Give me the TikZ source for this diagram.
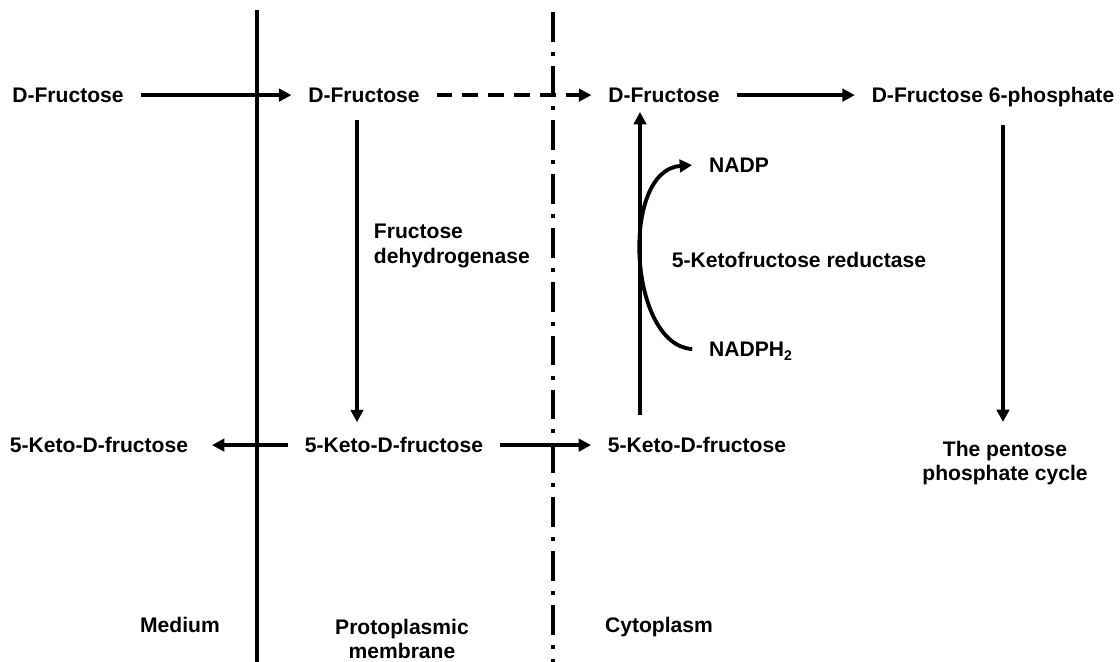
\documentclass[tikz,border=0pt]{standalone}
\usepackage{fontspec}
\setmainfont{Liberation Sans}
\usetikzlibrary{arrows.meta,positioning}

\begin{document}
\begin{tikzpicture}[>={Triangle[length=2.5mm,width=2.5mm]}, x=0.02cm, y=-0.02cm, line width=2.2pt,
  chem/.style={font=\bfseries\fontsize{12}{14}\selectfont, inner xsep=0.3cm, inner ysep=0.1cm,
    text height=9pt, text depth=0pt, anchor=base},
  lbl/.style={font=\bfseries\fontsize{12}{14}\selectfont, inner sep=0pt, align=center},
  cytoline/.style={line width=2.3pt, dash pattern=on 17pt off 5.7pt on 2.3pt off 5.7pt}]
  \useasboundingbox (0,0) rectangle (1120,662);
  \draw[line width=2.1pt] (257,10) -- (257,662);
  \draw[cytoline] (553,12) -- (553,662);
  \node[chem] (fru1) at (68,103) {D-Fructose};
  \node[chem] (fru2) at (364,103) {D-Fructose};
  \node[chem] (fru3) at (664,103) {D-Fructose};
  \node[chem] (f6p) at (993,103) {D-Fructose 6-phosphate};
  \node[chem] (keto1) at (99,453) {5-Keto-D-fructose};
  \node[chem] (keto2) at (394,453) {5-Keto-D-fructose};
  \node[chem] (keto3) at (697,453) {5-Keto-D-fructose};
  \node[lbl, anchor=north] (ppc) at (1005,439) {The pentose\\phosphate cycle};
  \node[chem] (nadp) at (739,173) {NADP};
  \node[chem] (nadph) at (751,357) {NADPH\textsubscript{2}};
  \node[lbl, anchor=base west] (red) at (670,268) {5-Ketofructose reductase};
  \node[lbl, anchor=north west, align=left] (fdh) at (372,222) {Fructose\\dehydrogenase};
  \node[lbl, anchor=base] (med) at (180,632) {Medium};
  \node[lbl, anchor=north] (ppm) at (402,617) {Protoplasmic\\membrane};
  \node[lbl, anchor=base] (cyt) at (659,632) {Cytoplasm};
  \path[->]
  (fru1) edge (fru2)
  (fru2) edge[dash pattern=on 9pt off 5.7pt] (fru3)
  (fru3) edge (f6p)
  (keto2) edge[shorten >=0.14cm] (keto1)
  (keto2) edge (keto3);
  \draw[->, shorten <=0.2cm, shorten >=0.16cm] ([xshift=-0.14cm]fru2.south) -- ([xshift=-0.14cm]fru2.south |- keto2.north);
  \draw[->, shorten <=0.3cm, shorten >=0.04cm] ([xshift=-0.48cm]fru3.south |- keto3.north) -- ([xshift=-0.48cm]fru3.south);
  \draw[->, shorten <=0.3cm, shorten >=0.34cm] ([xshift=0.2cm]f6p.south) -- ([xshift=0.2cm]f6p.south |- ppc.north);
  \draw[->] (nadph.west) .. controls (628,345) and (620,170) .. (nadp.west);
\end{tikzpicture}
\end{document}
